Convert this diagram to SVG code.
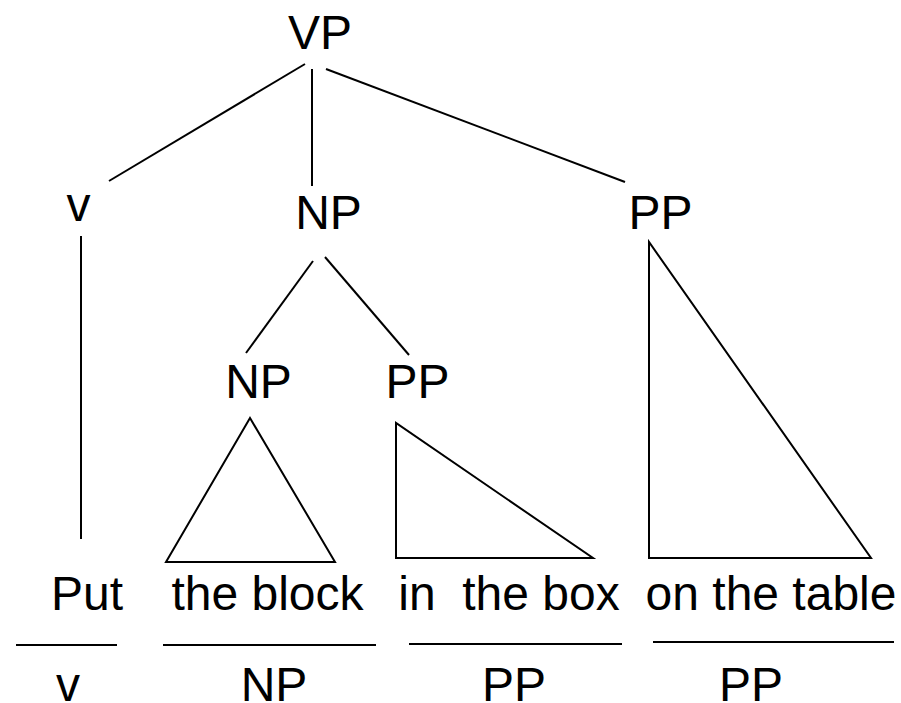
<svg xmlns="http://www.w3.org/2000/svg" width="901" height="703" viewBox="0 0 901 703">
<style>
text{font-family:"Liberation Sans",Arial,sans-serif;font-size:48px;fill:#000;text-anchor:middle;white-space:pre}
.ln{stroke:#000;stroke-width:2;fill:none}
</style>
<rect width="901" height="703" fill="#fff"/>
<g id="connectors" class="ln">
<line x1="305" y1="64" x2="109" y2="181"/>
<line x1="312" y1="69" x2="312" y2="186"/>
<line x1="326" y1="69" x2="625" y2="182"/>
<line x1="81" y1="236" x2="81" y2="539"/>
<line x1="313" y1="261" x2="246" y2="353"/>
<line x1="325" y1="257" x2="409" y2="355"/>
</g>
<g id="VP"><text x="320" y="49">VP</text></g>
<g id="v"><text x="78.5" y="221">v</text></g>
<g id="NP1"><text x="328.5" y="229">NP</text></g>
<g id="PP1"><text x="660.5" y="229">PP</text></g>
<g id="NP2"><text x="258.5" y="398">NP</text></g>
<g id="PP2"><text x="417.5" y="398">PP</text></g>
<g id="tri-NP"><polygon class="ln" points="250,418 166,562 335,562"/></g>
<g id="tri-PP2"><polygon class="ln" points="396,423 396,558 593,558"/></g>
<g id="tri-PP1"><polygon class="ln" points="649,242 649,558 871,558"/></g>
<g id="words">
<text x="87" y="610">Put</text>
<text x="267.5" y="610">the block</text>
<text x="509" y="610">in  the box</text>
<text x="771" y="610">on the table</text>
</g>
<g id="underlines" class="ln">
<line x1="16" y1="645" x2="117" y2="645"/>
<line x1="163" y1="645" x2="376" y2="645"/>
<line x1="409" y1="644" x2="622" y2="644"/>
<line x1="653" y1="642" x2="894" y2="642"/>
</g>
<g id="labels">
<text x="68" y="701">v</text>
<text x="274" y="701">NP</text>
<text x="514" y="701">PP</text>
<text x="751" y="701">PP</text>
</g>
</svg>
